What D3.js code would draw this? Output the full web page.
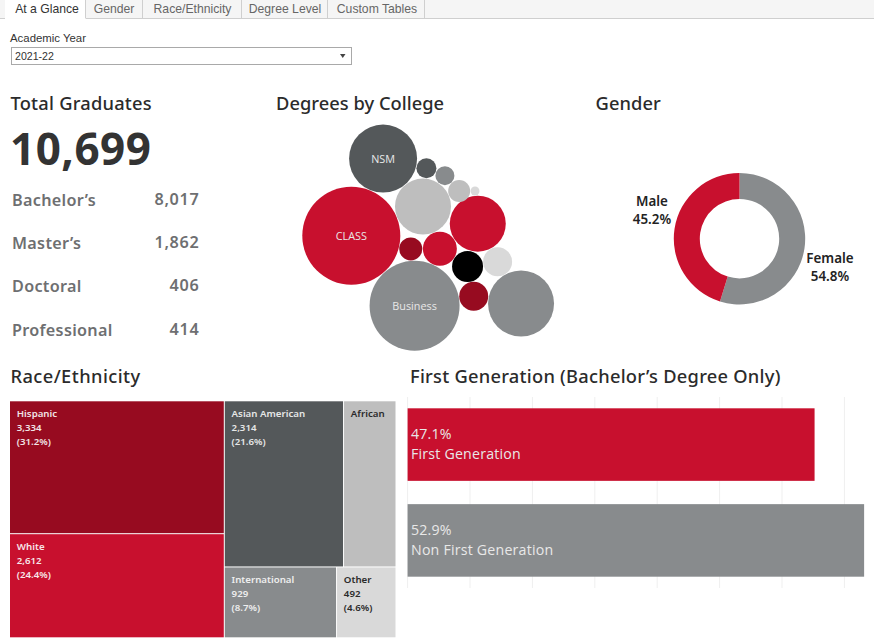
<!DOCTYPE html>
<html><head><meta charset="utf-8">
<script src="https://cdn.jsdelivr.net/npm/d3@7"></script>
<style>html,body{margin:0;padding:0;background:#fff;overflow:hidden}svg{display:block}
text{font-family:"Open Sans","Noto Sans",sans-serif}</style></head><body>
<svg id="c" width="874" height="643"></svg>
<script>
// ---- data ----
const tabNames = ["At a Glance","Gender","Race/Ethnicity","Degree Level","Custom Tables"];
const filterLabel = "Academic Year";
const filterValue = "2021-22";
const totalGraduates = 10699;
const degreeLevels = ["Bachelor’s","Master’s","Doctoral","Professional"];
const degreeCounts = [8017,1862,406,414];
const collegeLabels = ["CLASS","NSM","Business","","","","","","","","","","","",""];
const collegeValues = [2661,1281,2244,869,320,869,266,233,233,1207,147,111,100,134,22];
const genderNames = ["Female","Male"];
const genderShares = [54.8,45.2];
const raceNames = ["Hispanic","White","Asian American","African","International","Other"];
const raceCounts = [3334,2612,2314,1018,929,492];
const racePercents = ["31.2%","24.4%","21.6%","","8.7%","4.6%"];
const firstGenNames = ["First Generation","Non First Generation"];
const firstGenCounts = [3261,3658];
const firstGenPercents = ["47.1%","52.9%"];
const firstGenTicks = [0,500,1000,1500,2000,2500,3000,3500];

// ---- palette ----
const RED="#C8102E",DARKRED="#970B20",SLATE="#54585A",GRAY="#888B8D",LIGHT="#BEBEBE",PALE="#D9D9D9",BLACK="#000";
const collegeColors=[RED,SLATE,GRAY,LIGHT,RED,RED,BLACK,PALE,DARKRED,GRAY,DARKRED,SLATE,GRAY,LIGHT,PALE];
const raceColors=[DARKRED,RED,SLATE,LIGHT,GRAY,PALE];
const raceInk=["#f1e4e6","#f7e6e9","#e6e7e7","#2b2b2b","#eeeeee","#2b2b2b"];
const fmt=d3.format(",");
const svg=d3.select("#c");
const titleFill="#2b2b2b";
function title(x,y,t,ls){svg.append("text").attr("x",x).attr("y",y).style("font-family","'Noto Sans'").attr("font-size",18.3).attr("font-weight",500).style("letter-spacing",ls+"px").attr("fill",titleFill).text(t);}

// ---- tab strip ----
const tabEdges=[5,85.5,142.5,241.5,327.5,424.5];
const tabCentres=[47,114,192.5,285,377];
svg.append("rect").attr("width",874).attr("height",18).attr("fill","#f5f5f5");
svg.append("line").attr("x1",0).attr("x2",874).attr("y1",18.5).attr("y2",18.5).attr("stroke","#cfcfcf");
svg.append("rect").attr("x",tabEdges[0]).attr("width",tabEdges[1]-tabEdges[0]).attr("height",19).attr("fill","#fff");
tabNames.forEach((n,i)=>{
  svg.append("line").attr("x1",tabEdges[i+1]).attr("x2",tabEdges[i+1]).attr("y1",0).attr("y2",18).attr("stroke","#cfcfcf");
  svg.append("text").attr("x",tabCentres[i]).attr("y",13).attr("text-anchor","middle")
    .style("font-family","Liberation Sans").attr("font-size",12.2).attr("fill",i?"#666":"#333").text(n);
});
svg.append("text").attr("x",10).attr("y",42).style("font-family","Liberation Sans").attr("font-size",11.4).attr("fill","#333").text(filterLabel);
svg.append("rect").attr("x",11.5).attr("y",47.5).attr("width",340).attr("height",17).attr("fill","#fff").attr("stroke","#a9a9a9");
svg.append("text").attr("x",15).attr("y",60).style("font-family","Liberation Sans").attr("font-size",10.6).attr("fill","#333").text(filterValue);
svg.append("path").attr("d","M340 54h5.5l-2.75 4z").attr("fill","#444");

// ---- KPI ----
title(10.5,110,"Total Graduates",0.22);
svg.append("text").attr("x",10).attr("y",165).style("font-family","'Noto Sans'").attr("font-size",44).attr("font-weight",700).style("letter-spacing","0.5px").attr("fill","#333").text(fmt(totalGraduates));
const kpiY=d3.scalePoint().domain(degreeLevels).range([206,335.5]);
degreeLevels.forEach((d,i)=>{
  svg.append("text").attr("x",12).attr("y",kpiY(d)).style("font-family","'Noto Sans'").attr("font-size",16.2).attr("font-weight",600).style("letter-spacing","0.3px").attr("fill","#6e6f71").text(d);
  svg.append("text").attr("x",199.5).attr("y",kpiY(d)-1).attr("text-anchor","end").style("font-family","'Noto Sans'").attr("font-size",16.2).attr("font-weight",600).style("letter-spacing","0.7px").attr("fill","#6e6f71").text(fmt(degreeCounts[i]));
});

// ---- packed bubbles: every circle is placed tangent to two already-placed neighbours ----
title(276,110,"Degrees by College",0.03);
const rScale=d3.scaleSqrt().domain([0,d3.max(collegeValues)]).range([0,49]);
const gap=0.4;
const nodes=collegeValues.map((v,i)=>({i,r:rScale(v),label:collegeLabels[i],color:collegeColors[i]}));
const seed=nodes[0]; seed.x=351.3; seed.y=235.7;
function fromSeed(n,deg){const a=deg*Math.PI/180,d=seed.r+n.r+gap;n.x=seed.x+d*Math.cos(a);n.y=seed.y+d*Math.sin(a);}
fromSeed(nodes[1],-67.6); fromSeed(nodes[2],47.9);
function tangent(n,a,b,extra=0){
  const dx=b.x-a.x,dy=b.y-a.y,d=Math.hypot(dx,dy),ux=dx/d,uy=dy/d;
  const da=a.r+n.r+gap+extra,db=b.r+n.r+gap,t=(da*da-db*db+d*d)/(2*d),h=Math.sqrt(Math.max(0,da*da-t*t));
  n.x=a.x+t*ux+h*uy; n.y=a.y+t*uy-h*ux;
}
[[3,1,0],[4,3,2],[5,3,4,1],[6,5,4],[7,5,6],[8,6,2],[9,7,8],[10,0,2],[11,1,3],[12,11,3],[13,12,3],[14,13,5]]
  .forEach(([n,a,b,e])=>tangent(nodes[n],nodes[a],nodes[b],e));
svg.append("g").selectAll("circle").data(nodes).join("circle")
  .attr("cx",d=>d.x).attr("cy",d=>d.y).attr("r",d=>d.r).attr("fill",d=>d.color);
svg.append("g").selectAll("text").data(nodes.filter(d=>d.label)).join("text")
  .attr("x",d=>d.x).attr("y",d=>d.y+4).attr("text-anchor","middle").attr("font-size",10.8).attr("fill","#e8e8e8").text(d=>d.label);

// ---- donut ----
title(595.5,110,"Gender",0.1);
const pie=d3.pie().sort(null).value(d=>d)(genderShares);
const arc=d3.arc().innerRadius(39.7).outerRadius(65.7);
const genderColors=[GRAY,RED];
svg.append("g").attr("transform","translate(739.5,238.7)").selectAll("path").data(pie).join("path")
  .attr("d",arc).attr("fill",(d,i)=>genderColors[i]);
const genderLabelPos=[[830,263],[652,206]];
genderNames.forEach((n,i)=>{
  const t=svg.append("text").attr("text-anchor","middle").style("font-family","'Noto Sans'").attr("font-size",13.4).attr("font-weight",600).attr("fill","#222");
  t.append("tspan").attr("x",genderLabelPos[i][0]).attr("y",genderLabelPos[i][1]).text(n);
  t.append("tspan").attr("x",genderLabelPos[i][0]).attr("y",genderLabelPos[i][1]+18).text(genderShares[i]+"%");
});

// ---- treemap ----
title(10.5,383,"Race/Ethnicity",0.42);
const leaf=i=>({name:raceNames[i],value:raceCounts[i],pct:racePercents[i],i});
const raceTree={children:[{children:[leaf(0),leaf(1)]},{children:[{children:[leaf(2),leaf(3)]},{children:[leaf(4),leaf(5)]}]}]};
const rootT=d3.hierarchy(raceTree).sum(d=>d.value||0);
d3.treemap().tile(d3.treemapSliceDice).size([385.5,236]).paddingInner(1).round(false)(rootT);
const gT=svg.append("g").attr("transform","translate(10,401.3)");
const cell=gT.selectAll("g").data(rootT.leaves()).join("g").attr("transform",d=>`translate(${d.x0},${d.y0})`);
cell.append("rect").attr("width",d=>d.x1-d.x0).attr("height",d=>d.y1-d.y0).attr("fill",d=>raceColors[d.data.i]);
cell.each(function(d){
  const t=d3.select(this).append("text").style("font-family","'Noto Sans'").attr("font-size",9.7).attr("font-weight",600).attr("fill",raceInk[d.data.i]);
  t.append("tspan").attr("x",6.8).attr("y",16).text(d.data.name);
  if(d.data.pct){
    t.append("tspan").attr("x",6.8).attr("y",29.7).text(fmt(d.data.value));
    t.append("tspan").attr("x",6.8).attr("y",43.4).text("("+d.data.pct+")");
  }
});

// ---- first generation bars ----
title(410,383,"First Generation (Bachelor’s Degree Only)",0.25);
const xB=d3.scaleLinear().domain([0,3500]).range([407.6,844.4]);
const yB=d3.scaleBand().domain(firstGenNames).range([397,588]).paddingInner(.243).paddingOuter(.118);
svg.append("g").selectAll("line").data(firstGenTicks).join("line")
  .attr("x1",d=>xB(d)).attr("x2",d=>xB(d)).attr("y1",397).attr("y2",588).attr("stroke","#efefef");
const firstGenColors=[RED,GRAY];
const barG=svg.append("g").selectAll("g").data(firstGenNames).join("g");
barG.append("rect").attr("x",xB(0)).attr("y",d=>yB(d)).attr("width",(d,i)=>xB(firstGenCounts[i])-xB(0))
  .attr("height",yB.bandwidth()).attr("fill",(d,i)=>firstGenColors[i]);
barG.append("text").attr("x",411).attr("y",d=>yB(d)+31).attr("font-size",14.2).style("letter-spacing","0.2px").attr("fill","#e8e8e8").text((d,i)=>firstGenPercents[i]);
barG.append("text").attr("x",411).attr("y",d=>yB(d)+50.5).attr("font-size",14.2).style("letter-spacing","0.2px").attr("fill","#e8e8e8").text(d=>d);
</script></body></html>
